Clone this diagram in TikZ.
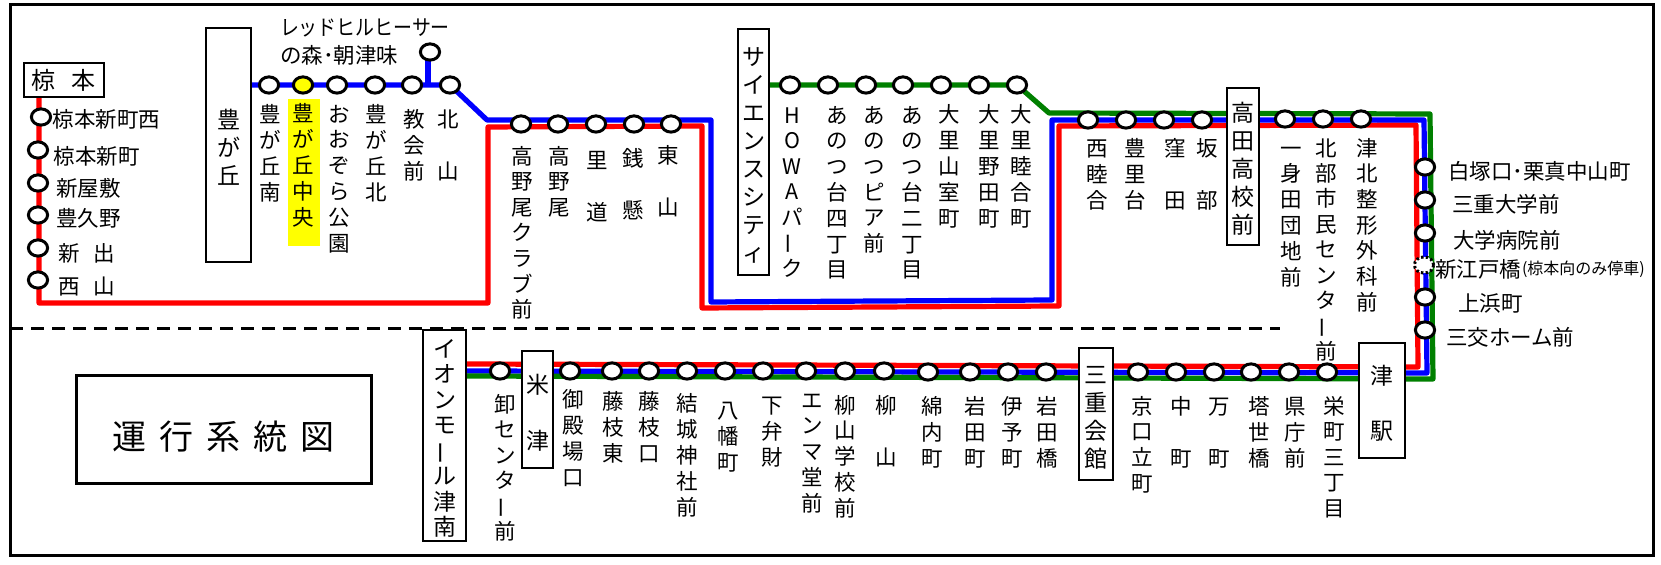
\documentclass[tikz,border=0pt]{standalone}
\usepackage{fontspec}
\setmainfont{Noto Sans CJK JP}
\usetikzlibrary{shapes.geometric,backgrounds}
\newdimen\pxu \pxu=.5pt
\definecolor{lred}{HTML}{FF0000}
\definecolor{lblue}{HTML}{0000FF}
\definecolor{lgreen}{HTML}{008000}
\definecolor{hlyellow}{HTML}{FFFF00}
\newcommand\vbarkana{\rotatebox[origin=c]{90}{ー}}
\newcommand\vcell[1]{\vbox to \vp\pxu{\vss\hbox to 0pt{\hss\rule[-.12em]{0pt}{1em}#1\hss}\vss}}
\def\vcharsloop#1{\ifx#1\relax\else\vcell{#1}\expandafter\vcharsloop\fi}
\newcommand\vchars[2]{\vbox{\offinterlineskip\def\vp{#1}\vcharsloop#2\relax}}
\newcommand\vboxed[2]{\vbox{\offinterlineskip\kern5\pxu\def\vp{#1}\vcharsloop#2\relax}}
\newcommand\hstrut{\rule[-.12em]{0pt}{1em}}
\tikzset{
  stn/.style={ellipse,draw=black,fill=white,line width=1.5pt,minimum width=9.6pt,minimum height=8.1pt,inner sep=0pt,outer sep=0pt},
  lab/.style={inner sep=0pt,outer sep=0pt,font=\fontsize{10.75}{13}\selectfont,text=black},
  smalllab/.style={inner sep=0pt,outer sep=0pt,font=\fontsize{8}{9}\selectfont,text=black},
  sign/.style={draw=black,fill=white,line width=1pt,inner sep=0pt,outer sep=0pt,font=\fontsize{11.5}{14}\selectfont,text=black},
  route/.style={line width=2.6pt,line join=round},
}
% id, x, y of first character centre, pitch, characters
\newcommand\vlab[5]{\node[lab,anchor=north] (#1) at (#2,{#3-#4/2}) {\vchars{#4}{#5}};}
% id, x, y centre, text
\newcommand\hlab[4]{\node[lab,anchor=west] (#1) at (#2,#3) {\hstrut #4};}
% id, x1, y1, x2, y2, pitch, characters
\newcommand\vbx[7]{\node[sign,minimum width={(#4-#2)*0.5pt},minimum height={(#5-#3)*0.5pt}] (#1) at ({(#2+#4)/2},{(#3+#5)/2}) {\vboxed{#6}{#7}};}
\newcommand\stn[3]{\node[stn] (#1) at (#2,#3) {};}
\begin{document}
\begin{tikzpicture}[x=0.5pt,y=-0.5pt]
\useasboundingbox (0,0) rectangle (1661,565);
% frame and title
\node[draw=black,line width=1.5pt,minimum width=821.5pt,minimum height=275.5pt,inner sep=0pt,outer sep=0pt] (frame) at (831.5,280.5) {};
\coordinate (dashL) at (10,329);
\coordinate (dashR) at (1280,329);
\draw[line width=1.5pt,dash pattern=on 6.5pt off 4pt] (dashL) -- (dashR);
\node[draw=black,line width=1.5pt,minimum width=147.5pt,minimum height=54pt,inner sep=0pt,outer sep=0pt,font=\fontsize{17}{20}\selectfont] (title) at (223.5,430) {\vbox{\kern14\pxu\hbox{運\hspace{6.5pt}行\hspace{6.5pt}系\hspace{6.5pt}統\hspace{6.5pt}図}}};

% yellow highlight
\node[fill=hlyellow,minimum width=16pt,minimum height=73.5pt,inner sep=0pt,outer sep=0pt] (hl) at (304,172.5) {};

% stations: left leg
\stn{a1}{41}{117}\stn{a2}{38}{150}\stn{a3}{38}{183}\stn{a4}{38}{215}\stn{a5}{38}{248}\stn{a6}{38}{280}
% Toyogaoka row
\stn{b1}{269}{85}
\node[stn,fill=hlyellow] (b2) at (303,85) {};
\stn{b3}{337}{85}\stn{b4}{375}{85}\stn{b5}{412}{85}\stn{b6}{450}{85}\stn{bs}{430}{52}
% Takanoo row
\stn{c1}{521}{124}\stn{c2}{558}{124}\stn{c3}{596}{124}\stn{c4}{634}{124}\stn{c5}{671}{124}
% green row
\stn{d1}{790}{85}\stn{d2}{828}{85}\stn{d3}{866}{85}\stn{d4}{903}{85}\stn{d5}{941}{85}\stn{d6}{979}{85}\stn{d7}{1017}{85}
% Nishimutsuai row
\stn{e1}{1088}{120}\stn{e2}{1126}{120}\stn{e3}{1164}{120}\stn{e4}{1202}{120}\stn{e5}{1285}{119}\stn{e6}{1323}{119}\stn{e7}{1361}{119}
% right column
\stn{f1}{1425}{167}\stn{f2}{1425}{200}\stn{f3}{1425}{233}
\node[ellipse,draw=black,fill=white,line width=1.5pt,dash pattern=on 1.2pt off 1.2pt,minimum width=9.6pt,minimum height=8.1pt,inner sep=0pt,outer sep=0pt] (f4) at (1424,265) {};
\stn{f5}{1425}{297}\stn{f6}{1425}{330}
% bottom row
\stn{g1}{500}{371}\stn{g2}{570}{371}\stn{g3}{612}{371}\stn{g4}{649}{371}\stn{g5}{687}{371}\stn{g6}{725}{371}\stn{g7}{763}{371}\stn{g8}{806}{371}\stn{g9}{845}{371}\stn{g10}{884}{371}
\stn{g11}{928}{372}\stn{g12}{970}{372}\stn{g13}{1008}{372}\stn{g14}{1046}{372}
\stn{g15}{1138}{372}\stn{g16}{1176}{372}\stn{g17}{1214}{372}\stn{g18}{1251}{372}\stn{g19}{1289}{372}\stn{g20}{1327}{372}

% signs
\node[sign,minimum width=40pt,minimum height=17pt,font=\fontsize{12}{14}\selectfont] (mk) at (64,80) {椋\hspace{8pt}本};
\vbx{toyo}{206}{28}{251}{262}{28}{豊が丘}
\vbx{sci}{738}{29}{769}{275}{28}{サイエンスシティ}
\vbx{taka}{1227}{88}{1259}{245}{28}{高田高校前}
\vbx{aeon}{423}{330}{466}{541}{25.5}{イオンモ\vbarkana ル津南}
\vbx{kome}{522}{353}{553}{467}{56}{米津}
\vbx{sanju}{1079}{348}{1113}{480}{28}{三重会館}
\vbx{tsu}{1359}{350}{1405}{452}{55}{津駅}

% routes
\begin{pgfonlayer}{background}
\coordinate (r1) at (39,303);\coordinate (r2) at (488,303);\coordinate (r3) at (488,127);\coordinate (r4) at (702,126);
\coordinate (r5) at (702,308);\coordinate (r6) at (1059,306);\coordinate (r7) at (1059,126);\coordinate (r8) at (1416,125);\coordinate (r9) at (1418,367);
\coordinate (rEnd) at (466,364);
\draw[route,lred] (mk.south -| r1) -- (r1) -- (r2) -- (r3) -- (r4) -- (r5) -- (r6) -- (r7) -- (r8) -- (r9) -- (rEnd);
\coordinate (u1) at (487,120);\coordinate (u2) at (711,120);\coordinate (u3) at (711,302);\coordinate (u4) at (1052,300);\coordinate (u5) at (1052,120);\coordinate (u6) at (1424,120);\coordinate (u7) at (1427,373);
\coordinate (uEnd) at (466,371);
\draw[route,lblue] (toyo.east |- b1) -- (b6.center) -- (u1) -- (u2) -- (u3) -- (u4) -- (u5) -- (u6) -- (u7) -- (uEnd);
\coordinate (u0) at (428,85);
\draw[route,lblue] (bs.center -| u0) -- (u0);
\coordinate (v1) at (1049,113);\coordinate (v2) at (1430,114);\coordinate (v3) at (1433,379);\coordinate (vEnd) at (466,376);
\draw[route,lgreen] (sci.east |- d1) -- (d7.center) -- (v1) -- (v2) -- (v3) -- (vEnd);
\end{pgfonlayer}

% left labels
\hlab{ta1}{53}{119}{椋本新町西}
\hlab{ta2}{54}{156}{椋本新町}
\hlab{ta3}{56}{188}{新屋敷}
\hlab{ta4}{56}{218}{豊久野}
\hlab{ta5}{58}{253}{新\hspace{7.25pt}出}
\hlab{ta6}{58}{286}{西\hspace{7.25pt}山}
% top labels
\hlab{tr1}{280}{27}{\scalebox{.88}[1]{レッドヒルヒーサー}}
\hlab{tr2}{280}{55}{の森･朝津味}
\vlab{tb1}{270}{114}{26}{豊が丘南}
\vlab{tb2}{303}{113}{26}{豊が丘中央}
\vlab{tb3}{339}{114}{25.8}{おおぞら公園}
\vlab{tb4}{376}{114}{26}{豊が丘北}
\vlab{tb5}{414}{119}{26}{教会前}
\vlab{tb6}{448}{119}{52}{北山}
\vlab{tc1}{522}{156}{25.6}{高野尾クラブ前}
\vlab{tc2}{559}{156}{25.6}{高野尾}
\vlab{tc3}{597}{160}{52}{里道}
\vlab{tc4}{633}{158}{52}{銭懸}
\vlab{tc5}{668}{155}{52}{東山}
\vlab{td1}{792}{115}{25.5}{HOWAパ\vbarkana ク}
\vlab{td2}{837}{115}{25.8}{あのつ台四丁目}
\vlab{td3}{874}{115}{25.7}{あのつピア前}
\vlab{td4}{912}{115}{25.8}{あのつ台二丁目}
\vlab{td5}{949}{114}{26}{大里山室町}
\vlab{td6}{989}{114}{26}{大里野田町}
\vlab{td7}{1021}{114}{26}{大里睦合町}
\vlab{te1}{1097}{148}{26}{西睦合}
\vlab{te2}{1135}{148}{26}{豊里台}
\vlab{te3}{1175}{148}{52}{窪田}
\vlab{te4}{1207}{148}{52}{坂部}
\vlab{te5}{1291}{148}{25.8}{一身田団地前}
\vlab{te6}{1326}{148}{25.4}{北部市民センタ\vbarkana 前}
\vlab{te7}{1367}{148}{25.7}{津北整形外科前}
% right labels
\hlab{tf1}{1448}{171}{白塚口･栗真中山町}
\hlab{tf2}{1452}{204}{三重大学前}
\hlab{tf3}{1453}{240}{大学病院前}
\hlab{tf4}{1435}{269}{新江戸橋}
\node[smalllab,anchor=west] (tf4b) at (1522,269) {\hstrut(椋本向のみ停車)};
\hlab{tf5}{1458}{303}{上浜町}
\hlab{tf6}{1446}{337}{三交ホーム前}
% bottom labels
\vlab{tg1}{505}{404}{25.5}{卸センタ\vbarkana 前}
\vlab{tg2}{573}{399}{26}{御殿場口}
\vlab{tg3}{613}{401}{26}{藤枝東}
\vlab{tg4}{649}{401}{26}{藤枝口}
\vlab{tg5}{687}{403}{26}{結城神社前}
\vlab{tg6}{728}{410}{26}{八幡町}
\vlab{tg7}{772}{405}{26}{下弁財}
\vlab{tg8}{812}{400}{25.8}{エンマ堂前}
\vlab{tg9}{845}{405}{25.8}{柳山学校前}
\vlab{tg10}{886}{405}{52}{柳山}
\vlab{tg11}{932}{406}{26}{綿内町}
\vlab{tg12}{975}{406}{26}{岩田町}
\vlab{tg13}{1012}{406}{26}{伊予町}
\vlab{tg14}{1047}{406}{26}{岩田橋}
\vlab{tg15}{1142}{406}{25.7}{京口立町}
\vlab{tg16}{1181}{406}{52}{中町}
\vlab{tg17}{1219}{406}{52}{万町}
\vlab{tg18}{1259}{406}{26}{塔世橋}
\vlab{tg19}{1295}{406}{26}{県庁前}
\vlab{tg20}{1334}{406}{25.5}{栄町三丁目}
\end{tikzpicture}
\end{document}
